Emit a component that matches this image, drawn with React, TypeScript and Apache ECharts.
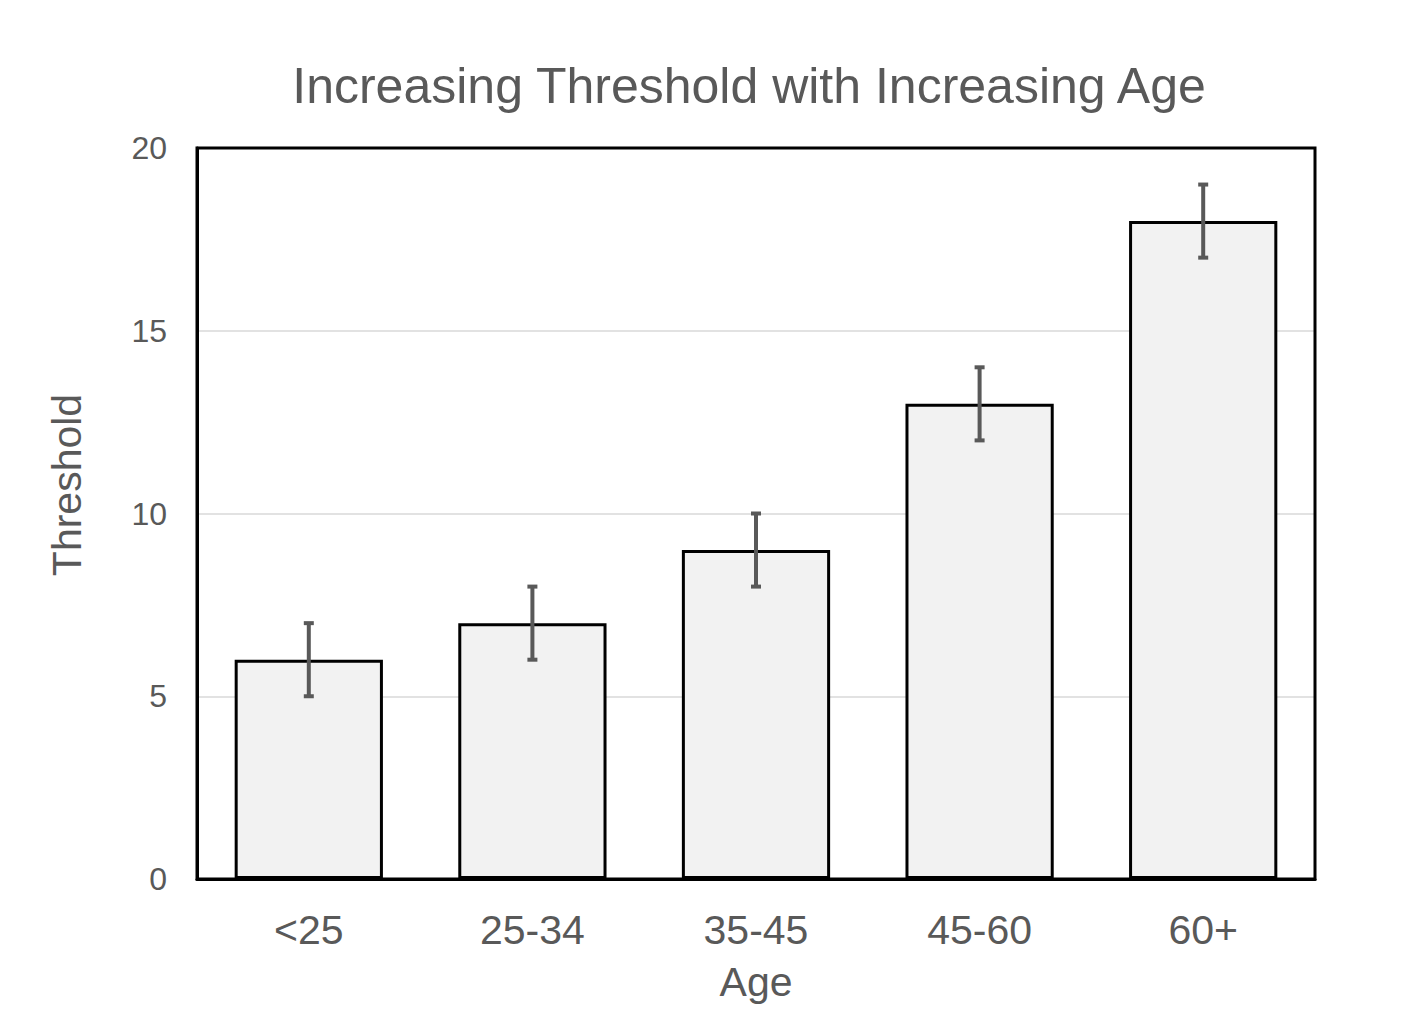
import React, { useEffect, useRef } from "react";
import * as echarts from "echarts";

const categories = ["<25", "25-34", "35-45", "45-60", "60+"];
const thresholds = [6, 7, 9, 13, 18];
const errors = [1, 1, 1, 1, 1];
const yTicks = { min: 0, max: 20, interval: 5 };

const FONT = "'Liberation Sans', Arial, sans-serif";
const TEXT = "#595959";
const GRID = { left: 197, right: 105, top: 148, bottom: 150 };
const W = 1420;
const H = 1029;

export default function App() {
  const ref = useRef<HTMLDivElement>(null);
  useEffect(() => {
    if (!ref.current) return;
    const chart = echarts.init(ref.current, undefined, { renderer: "svg" });
    const errData = categories.map((_, i) => [i, thresholds[i] - errors[i], thresholds[i] + errors[i]]);
    chart.setOption({
      animation: false,
      backgroundColor: "#ffffff",
      textStyle: { fontFamily: FONT },
      title: {
        text: "Increasing Threshold with Increasing Age",
        left: 744,
        top: 56,
        textAlign: "center",
        textStyle: { fontFamily: FONT, fontSize: 50, fontWeight: "normal", color: TEXT },
      },
      grid: {
        left: GRID.left,
        right: GRID.right,
        top: GRID.top,
        bottom: GRID.bottom,
      },
      graphic: [
        {
          type: "rect",
          z: 100,
          shape: {
            x: GRID.left,
            y: GRID.top,
            width: W - GRID.left - GRID.right,
            height: H - GRID.top - GRID.bottom,
          },
          style: { fill: "none", stroke: "#000000", lineWidth: 3 },
          silent: true,
        },
        {
          type: "text",
          x: 67,
          y: 485,
          rotation: Math.PI / 2,
          style: {
            text: "Threshold",
            align: "center",
            verticalAlign: "middle",
            fontFamily: FONT,
            fontSize: 41,
            fill: TEXT,
          },
        },
      ],
      xAxis: {
        type: "category",
        data: categories,
        name: "Age",
        nameLocation: "middle",
        nameGap: 82,
        nameTextStyle: { fontFamily: FONT, fontSize: 41, color: TEXT },
        axisLine: { show: true, lineStyle: { color: "#000000", width: 3 } },
        axisTick: { show: false },
        axisLabel: { fontFamily: FONT, fontSize: 41, color: TEXT, margin: 30 },
      },
      yAxis: {
        type: "value",
        min: yTicks.min,
        max: yTicks.max,
        interval: yTicks.interval,
        axisLine: { show: true, lineStyle: { color: "#000000", width: 3 } },
        axisTick: { show: false },
        axisLabel: { fontFamily: FONT, fontSize: 32, color: TEXT, margin: 30 },
        splitLine: { show: true, lineStyle: { color: "#d9d9d9", width: 1.5 } },
      },
      series: [
        {
          type: "bar",
          data: thresholds,
          barWidth: "66.3%",
          itemStyle: { color: "#f2f2f2", borderColor: "#000000", borderWidth: 3 },
          z: 2,
        },
        {
          type: "custom",
          data: errData,
          z: 3,
          renderItem: (params: any, api: any) => {
            const x = api.value(0);
            const lo = api.coord([x, api.value(1)]);
            const hi = api.coord([x, api.value(2)]);
            const hw = 5;
            const style = { stroke: "#595959", lineWidth: 4 };
            return {
              type: "group",
              children: [
                { type: "line", shape: { x1: lo[0], y1: lo[1], x2: hi[0], y2: hi[1] }, style },
                { type: "line", shape: { x1: hi[0] - hw, y1: hi[1], x2: hi[0] + hw, y2: hi[1] }, style },
                { type: "line", shape: { x1: lo[0] - hw, y1: lo[1], x2: lo[0] + hw, y2: lo[1] }, style },
              ],
            };
          },
        },
      ],
    });
    return () => chart.dispose();
  }, []);
  return (
    <div
      ref={ref}
      style={{ position: "fixed", left: 0, top: 0, width: W, height: H, background: "#fff" }}
    />
  );
}
